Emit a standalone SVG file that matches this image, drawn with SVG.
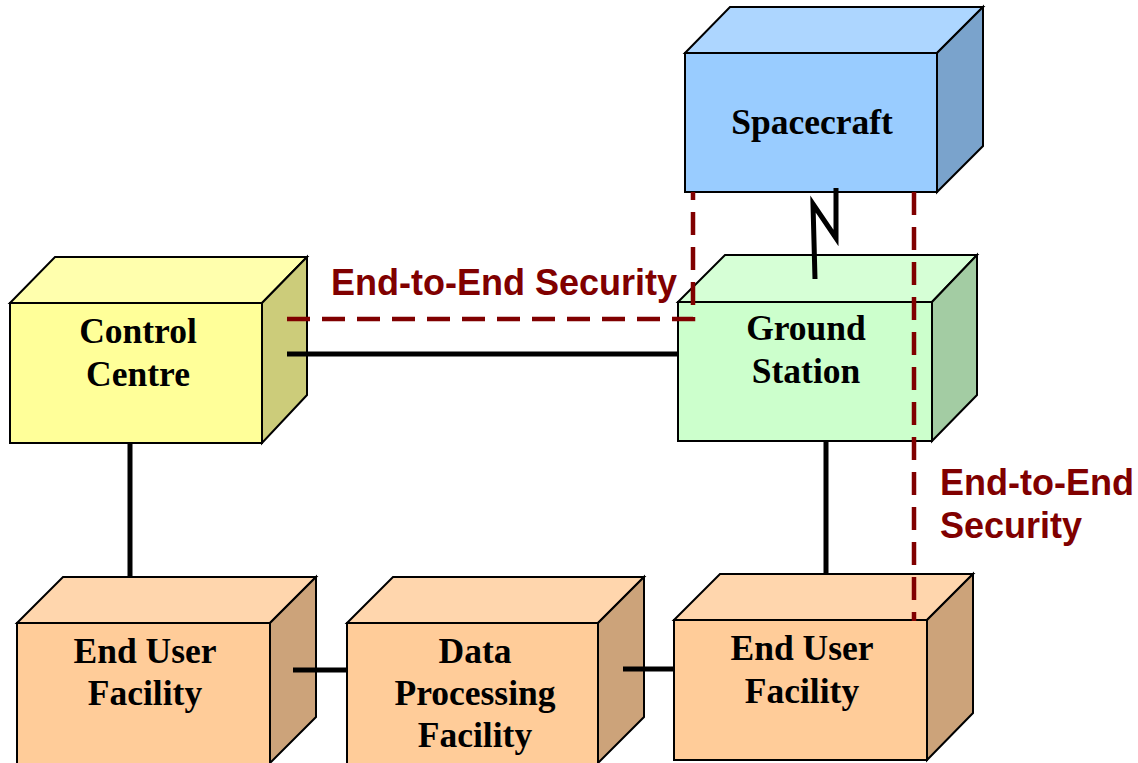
<svg xmlns="http://www.w3.org/2000/svg" width="1138" height="763" viewBox="0 0 1138 763">
<style>
.edge{stroke:#000;stroke-width:2;stroke-linejoin:miter}
.lbl{font-family:"Liberation Serif","Times New Roman",serif;font-weight:bold;font-size:35.5px;text-anchor:middle;fill:#000}
.sec{font-family:"Liberation Sans",Arial,sans-serif;font-weight:bold;font-size:36px;fill:#800000}
.conn{stroke:#000;stroke-width:5;fill:none}
.dash{stroke:#800000;stroke-width:4.5;fill:none;stroke-dasharray:23 12}
</style>
<rect width="1138" height="763" fill="#fff"/>
<g id="spacecraft">
<polygon class="edge" fill="#ADD6FF" points="685,53 730,7 983,7 937,53"/>
<polygon class="edge" fill="#7AA3CC" points="937,53 983,7 983,146 937,192"/>
<rect class="edge" fill="#99CCFF" x="685" y="53" width="252" height="139"/>
<text class="lbl" x="812" y="134">Spacecraft</text>
</g>
<g id="control-centre">
<polygon class="edge" fill="#FFFFAD" points="10,303 55,257 307,257 262,303"/>
<polygon class="edge" fill="#CCCC7A" points="262,303 307,257 307,395 262,443"/>
<rect class="edge" fill="#FFFF99" x="10" y="303" width="252" height="140"/>
<text class="lbl" x="138" y="343">Control</text>
<text class="lbl" x="138" y="386">Centre</text>
</g>
<g id="ground-station">
<polygon class="edge" fill="#D6FFD6" points="678,302 725,255 977,255 932,302"/>
<polygon class="edge" fill="#A3CCA3" points="932,302 977,255 977,395 932,441"/>
<rect class="edge" fill="#CCFFCC" x="678" y="302" width="254" height="139"/>
<text class="lbl" x="806" y="340">Ground</text>
<text class="lbl" x="806" y="383">Station</text>
</g>
<g id="end-user-1">
<polygon class="edge" fill="#FFD6AD" points="17,623 63,577 316,577 270,623"/>
<polygon class="edge" fill="#CCA37A" points="270,623 316,577 316,717 270,763"/>
<rect class="edge" fill="#FFCC99" x="17" y="623" width="253" height="142"/>
<text class="lbl" x="145" y="663">End User</text>
<text class="lbl" x="145" y="705">Facility</text>
</g>
<g id="data-processing">
<polygon class="edge" fill="#FFD6AD" points="347,623 393,577 644,577 598,623"/>
<polygon class="edge" fill="#CCA37A" points="598,623 644,577 644,717 598,763"/>
<rect class="edge" fill="#FFCC99" x="347" y="623" width="251" height="142"/>
<text class="lbl" x="475" y="663">Data</text>
<text class="lbl" x="475" y="705">Processing</text>
<text class="lbl" x="475" y="747">Facility</text>
</g>
<g id="end-user-2">
<polygon class="edge" fill="#FFD6AD" points="674,620 720,574 973,574 927,620"/>
<polygon class="edge" fill="#CCA37A" points="927,620 973,574 973,713 927,760"/>
<rect class="edge" fill="#FFCC99" x="674" y="620" width="253" height="140"/>
<text class="lbl" x="802" y="660">End User</text>
<text class="lbl" x="802" y="703">Facility</text>
</g>
<g id="connectors">
<line class="conn" x1="287" y1="354" x2="678" y2="354"/>
<line class="conn" x1="130" y1="443" x2="130" y2="577"/>
<line class="conn" x1="826" y1="441" x2="826" y2="574"/>
<line class="conn" x1="293" y1="670" x2="347" y2="670"/>
<line class="conn" x1="623" y1="669" x2="674" y2="669"/>
<polyline class="conn" points="836,188 836,238 813,204 815,279"/>
<polyline class="dash" points="287,319 693,319 693,192"/>
<line class="dash" x1="914" y1="192" x2="914" y2="621"/>
</g>
<g id="security-labels">
<text class="sec" x="331" y="295">End-to-End Security</text>
<text class="sec" x="940" y="495">End-to-End</text>
<text class="sec" x="940" y="538">Security</text>
</g>
</svg>
